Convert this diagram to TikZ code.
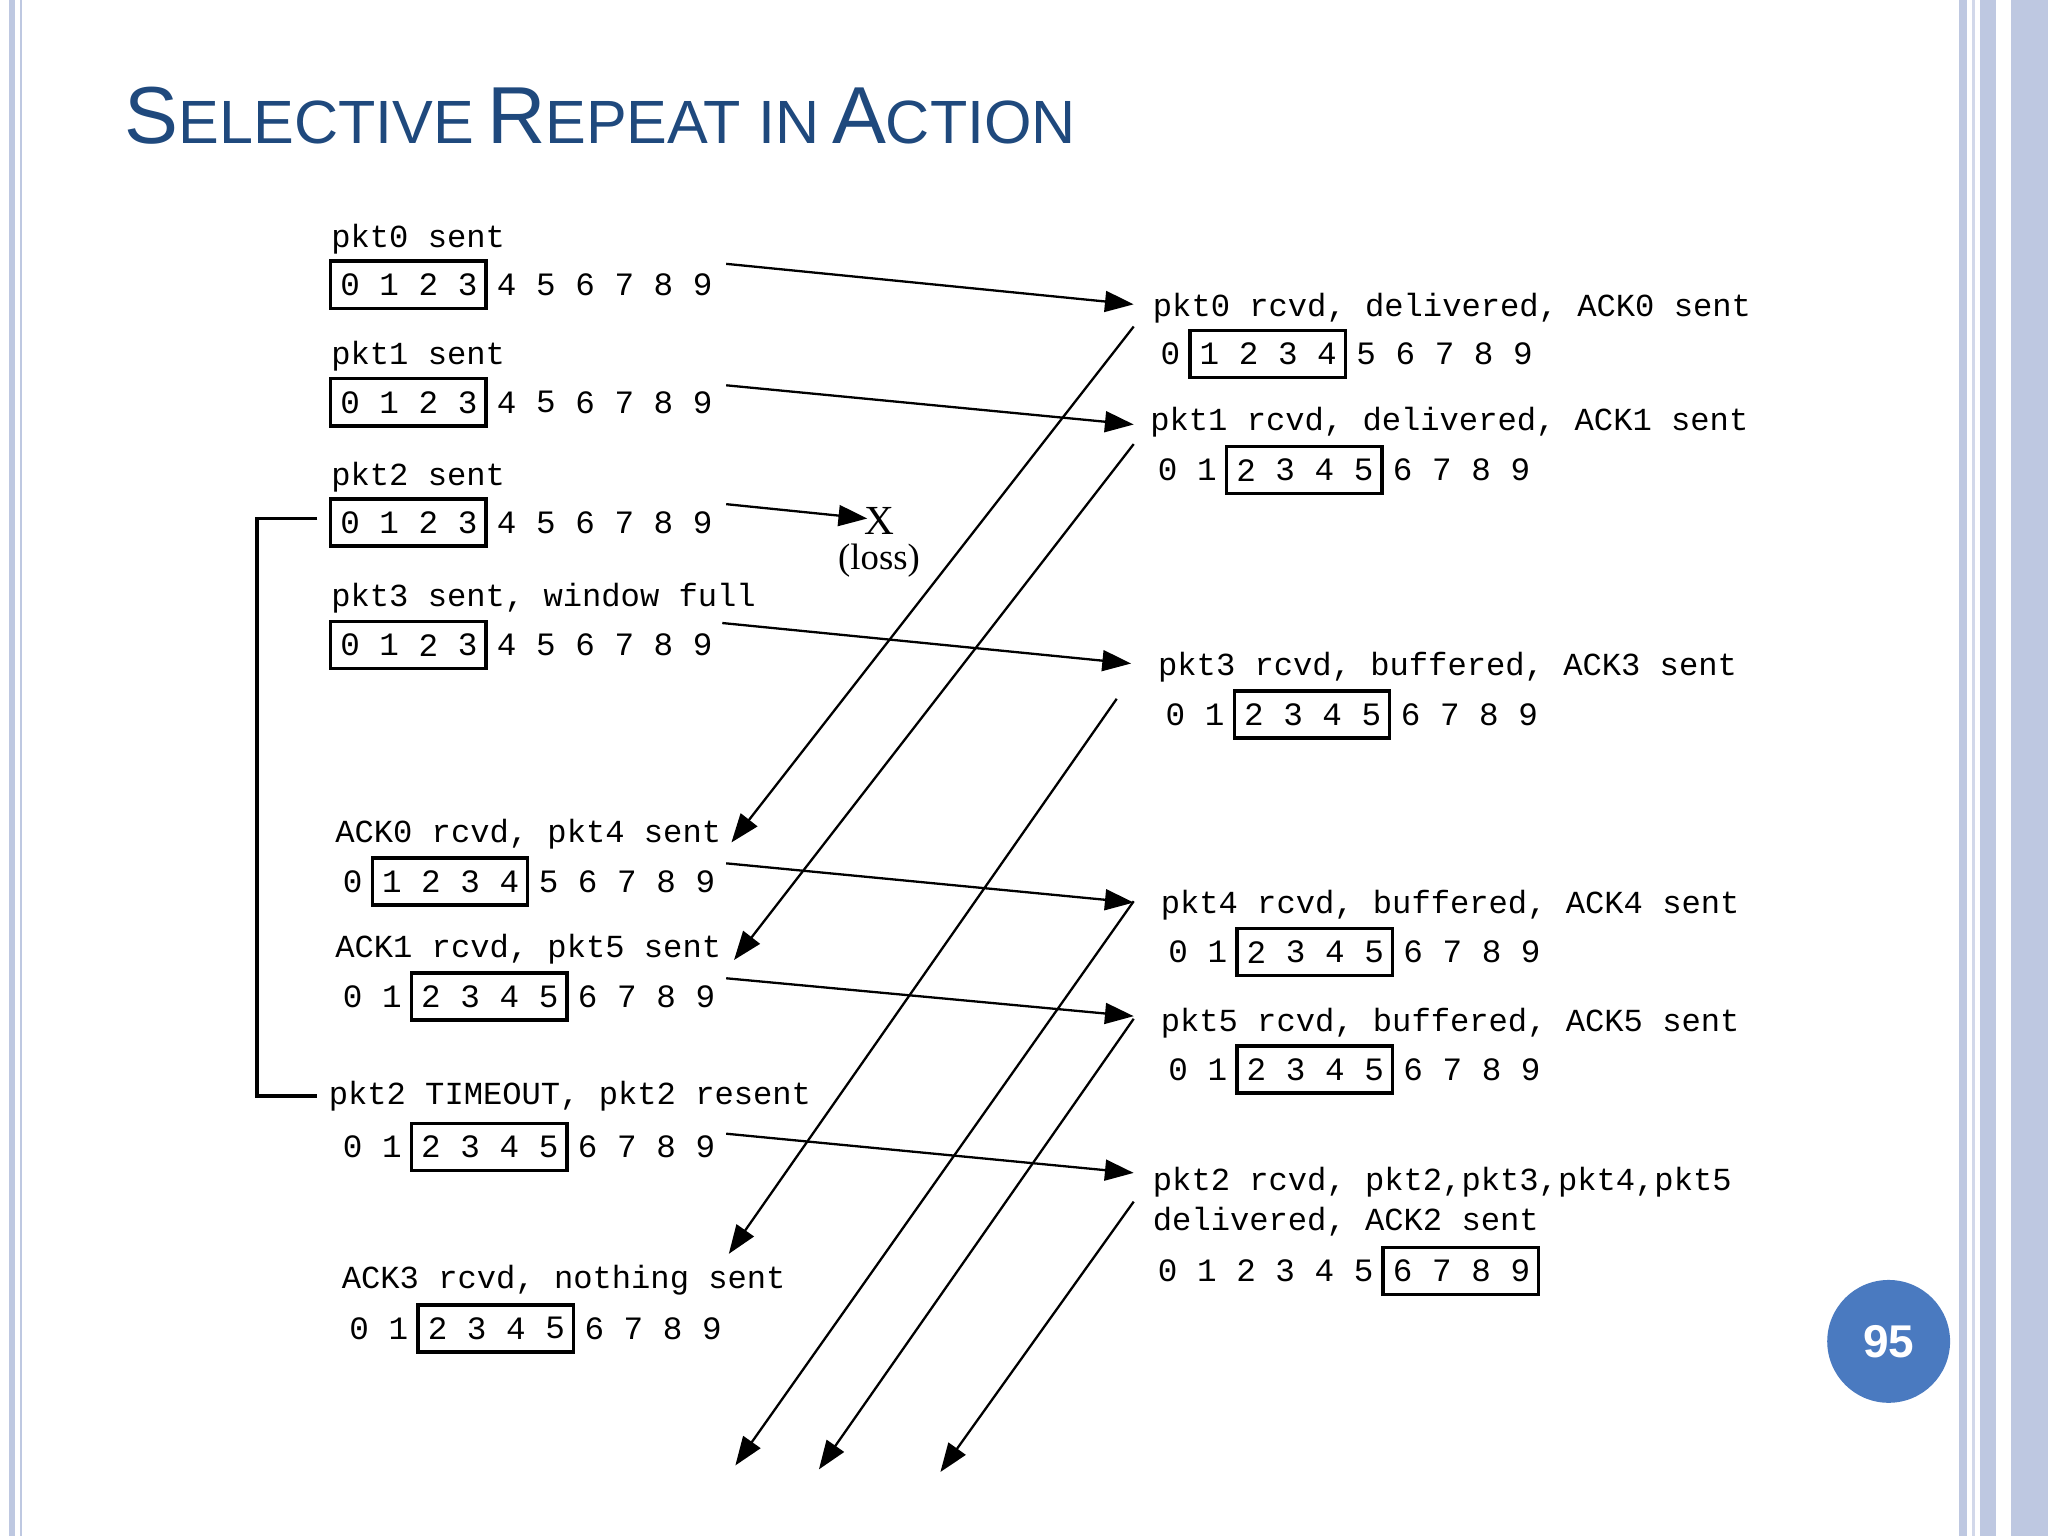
\documentclass[tikz,border=0pt]{standalone}
\usepackage{fontspec}
\setmainfont{Liberation Sans}
\newfontfamily\monof{Liberation Mono}
\newfontfamily\seriff{Liberation Serif}
\usetikzlibrary{arrows.meta}
\definecolor{titleblue}{RGB}{31,73,125}
\definecolor{barblue}{RGB}{190,200,225}
\definecolor{circblue}{RGB}{74,122,192}
\newcommand\drow[4]{%
  \foreach \i in {0,...,9} \node[dig] at ({#1+30*\i},#2) {\i};
  \draw[boxline] ({#1+30*#3-15},{#2-18}) rectangle ({#1+30*#4+14},{#2+18});}
\newcommand\bigc[1]{{\fontsize{17.6}{19}\selectfont #1}}
\newcommand\smc[1]{{\fontsize{13.3}{15}\selectfont #1}}
\begin{document}
\begin{tikzpicture}[x=0.01cm,y=-0.01cm,
  dig/.style={font=\monof\fontsize{7.1}{8}\selectfont,inner sep=0pt},
  lbl/.style={font=\monof\fontsize{7.0}{8}\selectfont,anchor=west,inner sep=0pt},
  boxline/.style={line width=0.75pt},
  arr/.style={line width=0.5pt,-{Triangle[length=0.22cm,width=0.16cm]}}]
\useasboundingbox (0,0) rectangle (1568,1176);
\fill[white] (0,0) rectangle (1568,1176);
% borders
\draw[barblue,line width=1.2pt] (9,0) -- (9,1176);
\draw[barblue,line width=0.6pt] (16,0) -- (16,1176);
\fill[barblue] (1500,0) rectangle (1506,1176);
\fill[barblue] (1516,0) rectangle (1528,1176);
\fill[barblue] (1540,0) rectangle (1568,1176);
\draw[barblue!70,line width=0.5pt] (1511,0) -- (1511,1176);
% title
\node[anchor=base west,inner sep=0pt,text=titleblue] (title) at (95,110)
  {\bigc{S}\smc{ELECTIVE} \bigc{R}\smc{EPEAT IN} \bigc{A}\smc{CTION}};
% page number
\node[circle,fill=circblue,minimum size=0.94cm,inner sep=0pt,text=white,font=\bfseries\fontsize{10}{12}\selectfont] (pg) at (1446,1027) {95};
% sender rows
\node[lbl] (s1) at (253,183) {pkt0 sent}; \drow{268}{218}{0}{3}
\node[lbl] (s2) at (253,273) {pkt1 sent}; \drow{268}{308}{0}{3}
\node[lbl] (s3) at (253,365) {pkt2 sent}; \drow{268}{400}{0}{3}
\node[lbl] (s4) at (253,458) {pkt3 sent, window full}; \drow{268}{494}{0}{3}
\node[lbl] (s5) at (256,639) {ACK0 rcvd, pkt4 sent}; \drow{270}{675}{1}{4}
\node[lbl] (s6) at (256,727) {ACK1 rcvd, pkt5 sent}; \drow{270}{763}{2}{5}
\node[lbl] (s7) at (251,839) {pkt2 TIMEOUT, pkt2 resent}; \drow{270}{878}{2}{5}
\node[lbl] (s8) at (261,980) {ACK3 rcvd, nothing sent}; \drow{275}{1017}{2}{5}
% receiver rows
\node[lbl] (r1) at (882,236) {pkt0 rcvd, delivered, ACK0 sent}; \drow{896}{271}{1}{4}
\node[lbl] (r2) at (880,323) {pkt1 rcvd, delivered, ACK1 sent}; \drow{894}{360}{2}{5}
\node[lbl] (r3) at (886,511) {pkt3 rcvd, buffered, ACK3 sent}; \drow{900}{547}{2}{5}
\node[lbl] (r4) at (888,693) {pkt4 rcvd, buffered, ACK4 sent}; \drow{902}{729}{2}{5}
\node[lbl] (r5) at (888,783) {pkt5 rcvd, buffered, ACK5 sent}; \drow{902}{819}{2}{5}
\node[lbl] (r6) at (882,905) {pkt2 rcvd, pkt2,pkt3,pkt4,pkt5};
\node[lbl] (r6b) at (882,935) {delivered, ACK2 sent}; \drow{894}{973}{6}{9}
% loss
\node[inner sep=0pt,font=\seriff\fontsize{9}{10}\selectfont] (x) at (673,399) {X};
\node[inner sep=0pt,font=\seriff\fontsize{8}{10}\selectfont] (loss) at (673,429) {(loss)};
% coordinates
\foreach \n/\p in {a1/{556,202},a2/{868,233},b1/{556,295},b2/{868,325},c1/{556,386},c2/{664,397},
 d1/{553,477},d2/{866,508},e1/{556,661},e2/{868,691},f1/{556,749},f2/{868,778},g1/{556,868},g2/{868,898},
 h1/{868,250},h2/{560,645},i1/{868,340},i2/{562,735},j1/{855,535},j2/{558,960},
 k1/{868,690},k2/{563,1122},l1/{868,780},l2/{627,1125},m1/{868,920},m2/{720,1127},
 t1/{243,397},t2/{197,397},t3/{197,839},t4/{243,839}}
 \coordinate (\n) at (\p);
\foreach \u/\v in {a1/a2,b1/b2,c1/c2,d1/d2,e1/e2,f1/f2,g1/g2,h1/h2,i1/i2,j1/j2,k1/k2,l1/l2,m1/m2}
 \draw[arr] (\u) -- (\v);
\draw[line width=0.8pt] (t1) -- (t2) -- (t3) -- (t4);
\end{tikzpicture}
\end{document}
